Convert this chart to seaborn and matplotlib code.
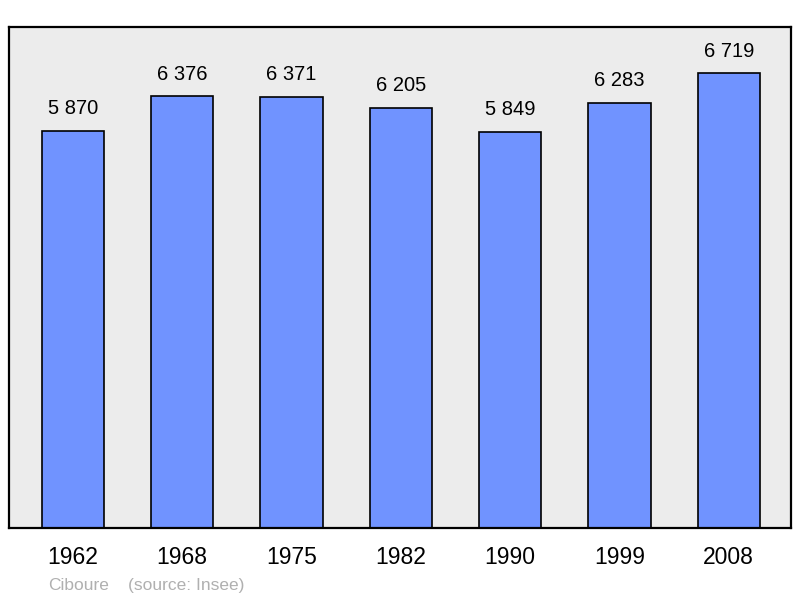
import pandas as pd
import matplotlib
matplotlib.use('Agg')
import matplotlib.pyplot as plt
import seaborn as sns

# Population data (Ciboure, source: Insee)
years = ['1962', '1968', '1975', '1982', '1990', '1999', '2008']
population = [5870, 6376, 6371, 6205, 5849, 6283, 6719]

df = pd.DataFrame({'year': years, 'population': population})

sns.set_style('white')
plt.rcParams['font.family'] = ['Liberation Sans', 'DejaVu Sans']

fig = plt.figure(figsize=(8, 5.98), dpi=100)
ax = fig.add_axes([0.01125, 0.117, 0.9775, 0.838])
ax.set_facecolor('#ececec')

sns.barplot(data=df, x='year', y='population', color='#7093ff', saturation=1,
            edgecolor='black', linewidth=1.2, width=0.57, ax=ax)

# value labels above bars, with space as thousands separator
labels = [f'{v:,}'.replace(',', ' ') for v in population]
ax.bar_label(ax.containers[0], labels=labels, padding=9, fontsize=14.5, color='black')

ax.set_ylim(0, 7400)
ax.set_xlim(-0.585, 6.57)
ax.set_yticks([])
ax.set_xlabel('')
ax.set_ylabel('')
ax.tick_params(axis='x', length=0, pad=13, labelsize=16.5, labelcolor='black')

for s in ax.spines.values():
    s.set_visible(True)
    s.set_color('black')
    s.set_linewidth(1.6)

fig.text(48 / 800, 1 - 590 / 598, 'Ciboure', color='#b0b0b0', fontsize=12.5)
fig.text(128 / 800, 1 - 590 / 598, '(source: Insee)', color='#b0b0b0', fontsize=12.5)

fig.savefig('out.png', dpi=100)
